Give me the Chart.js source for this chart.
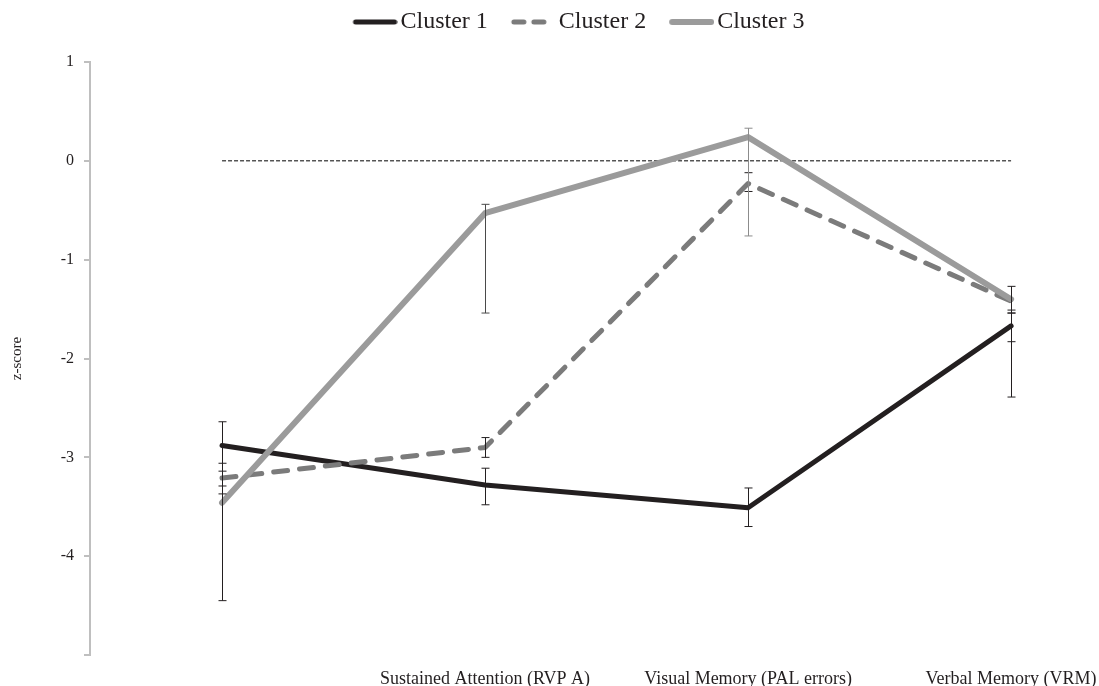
<!DOCTYPE html>
<html>
<head>
<meta charset="utf-8">
<script src="https://cdn.jsdelivr.net/npm/chart.js@4.4.1/dist/chart.umd.min.js"></script>
<style>
  html, body { margin: 0; padding: 0; background: #fff; }
  #wrap { width: 1099px; height: 686px; }
</style>
</head>
<body>
<div id="wrap"><canvas id="graf"></canvas></div>
<script>
// categories on the x axis (first one has no label in the picture)
const kategorie = ['', 'Sustained Attention (RVP A)', 'Visual Memory (PAL errors)', 'Verbal Memory (VRM)'];

const cluster1 = [-2.88, -3.28, -3.51, -1.67];
const cluster2 = [-3.21, -2.90, -0.23, -1.42];
const cluster3 = [-3.46, -0.53, 0.24, -1.40];
const nula = [0, 0, 0, 0];

// error bars: top and bottom end of each bar
const cluster1_hore = [-2.64, -3.11, -3.31, -1.54];
const cluster1_dole = [-3.14, -3.48, -3.70, -2.39];
const cluster2_hore = [-3.06, -2.80, -0.12, -1.51];
const cluster2_dole = [-3.37, -3.00, -0.31, -1.83];
const cluster3_hore = [-3.29, -0.44, 0.33, -1.27];
const cluster3_dole = [-4.45, -1.54, -0.76, -1.54];

const yTicks = [1, 0, -1, -2, -3, -4, -5];

const body = (arr) => arr.map((v, i) => ({ x: i, y: v }));

const chybove = [
  { hore: cluster1_hore, dole: cluster1_dole, farby: ['#231f20', '#231f20', '#231f20', '#231f20'] },
  { hore: cluster2_hore, dole: cluster2_dole, farby: ['#231f20', '#231f20', '#231f20', '#231f20'] },
  { hore: cluster3_hore, dole: cluster3_dole, farby: ['#231f20', '#4a4a4a', '#8c8c8c', '#231f20'] }
];

// small canvas with the line sample for the legend
function vzorka(farba, hrubka, dash) {
  const c = document.createElement('canvas');
  c.width = 52;
  c.height = 10;
  const g = c.getContext('2d');
  g.strokeStyle = farba;
  g.lineWidth = hrubka;
  g.lineCap = 'round';
  g.setLineDash(dash);
  g.beginPath();
  g.moveTo(10, 5);
  g.lineTo(49, 5);
  g.stroke();
  return c;
}

// draws the error bars on top of the lines
const errorBars = {
  id: 'errorBars',
  afterDatasetsDraw(chart) {
    const ctx = chart.ctx;
    const xs = chart.scales.x;
    const ys = chart.scales.y;
    ctx.save();
    ctx.lineWidth = 1;
    chybove.forEach((s) => {
      s.hore.forEach((h, i) => {
        const px = Math.round(xs.getPixelForValue(i)) + 0.5;
        const y1 = ys.getPixelForValue(h);
        const y2 = ys.getPixelForValue(s.dole[i]);
        ctx.strokeStyle = s.farby[i];
        ctx.beginPath();
        ctx.moveTo(px, y1);
        ctx.lineTo(px, y2);
        ctx.moveTo(px - 4, y1);
        ctx.lineTo(px + 4, y1);
        ctx.moveTo(px - 4, y2);
        ctx.lineTo(px + 4, y2);
        ctx.stroke();
      });
    });
    ctx.restore();
  }
};

// legend in the picture sits a bit right of the page centre
const posunLegendy = {
  id: 'posunLegendy',
  afterLayout(chart) {
    chart.legend.left += 37;
    chart.legend.right += 37;
  }
};

const data = {
  datasets: [
    {
      label: 'Cluster 1',
      data: body(cluster1),
      borderColor: '#231f20',
      backgroundColor: '#231f20',
      borderWidth: 5,
      borderJoinStyle: 'round',
      borderCapStyle: 'round',
      pointRadius: 0,
      pointStyle: vzorka('#231f20', 5, []),
      order: 3
    },
    {
      label: 'Cluster 2',
      data: body(cluster2),
      borderColor: '#7b7b7b',
      backgroundColor: '#7b7b7b',
      borderWidth: 5,
      borderDash: [14, 12],
      borderJoinStyle: 'round',
      borderCapStyle: 'round',
      pointRadius: 0,
      pointStyle: vzorka('#7b7b7b', 5, [10, 10]),
      order: 2
    },
    {
      label: 'Cluster 3',
      data: body(cluster3),
      borderColor: '#9b9b9b',
      backgroundColor: '#9b9b9b',
      borderWidth: 6,
      borderJoinStyle: 'round',
      borderCapStyle: 'round',
      pointRadius: 0,
      pointStyle: vzorka('#9b9b9b', 6, []),
      order: 1
    },
    {
      label: '',
      data: body(nula),
      borderColor: '#000',
      borderWidth: 1,
      borderDash: [4, 2],
      pointRadius: 0,
      order: 4
    }
  ]
};

const config = {
  type: 'line',
  data: data,
  plugins: [errorBars, posunLegendy],
  options: {
    responsive: true,
    maintainAspectRatio: false,
    animation: false,
    layout: { padding: { top: -15, right: 14, bottom: 0, left: 0 } },
    plugins: {
      tooltip: { enabled: false },
      legend: {
        position: 'top',
        labels: {
          usePointStyle: true,
          pointStyleWidth: 34,
          padding: 25,
          color: '#231f20',
          font: { family: 'Liberation Serif', size: 24 },
          filter: (item) => item.text !== '',
          sort: (a, b) => a.datasetIndex - b.datasetIndex
        }
      }
    },
    scales: {
      x: {
        type: 'linear',
        min: -0.502,
        max: 3.281,
        afterBuildTicks: (axis) => { axis.ticks = [0, 1, 2, 3].map((v) => ({ value: v })); },
        afterFit: (axis) => { axis.paddingLeft = 0; axis.paddingRight = 0; axis.height = 31; },
        grid: { display: false },
        border: { display: false },
        ticks: {
          padding: 5,
          maxRotation: 0,
          autoSkip: false,
          color: '#231f20',
          font: { family: 'Liberation Serif', size: 18 },
          callback: (v) => kategorie[v]
        }
      },
      // empty band between the legend and the plot
      medzera: {
        type: 'linear',
        axis: 'x',
        position: 'top',
        afterFit: (axis) => { axis.height = 18; axis.paddingLeft = 0; axis.paddingRight = 0; },
        grid: { display: false },
        border: { display: false },
        ticks: { display: false }
      },
      y: {
        min: -5,
        max: 1,
        afterBuildTicks: (axis) => { axis.ticks = yTicks.map((v) => ({ value: v })); },
        afterFit: (axis) => { axis.width = 90; axis.paddingTop = 0; axis.paddingBottom = 0; },
        grid: { drawOnChartArea: false, drawTicks: true, tickLength: 6, color: '#bfbfbf', lineWidth: 2 },
        border: { display: true, color: '#bfbfbf', width: 2 },
        ticks: {
          padding: 10,
          color: '#231f20',
          font: { family: 'Liberation Serif', size: 16 },
          callback: (v) => (v === -5 ? '' : v)
        },
        title: {
          display: true,
          text: 'z-score',
          color: '#231f20',
          padding: { top: 8, bottom: 0 },
          font: { family: 'Liberation Serif', size: 15 }
        }
      }
    }
  }
};

var graf = document.getElementById('graf').getContext('2d');
new Chart(graf, config);
</script>
</body>
</html>
